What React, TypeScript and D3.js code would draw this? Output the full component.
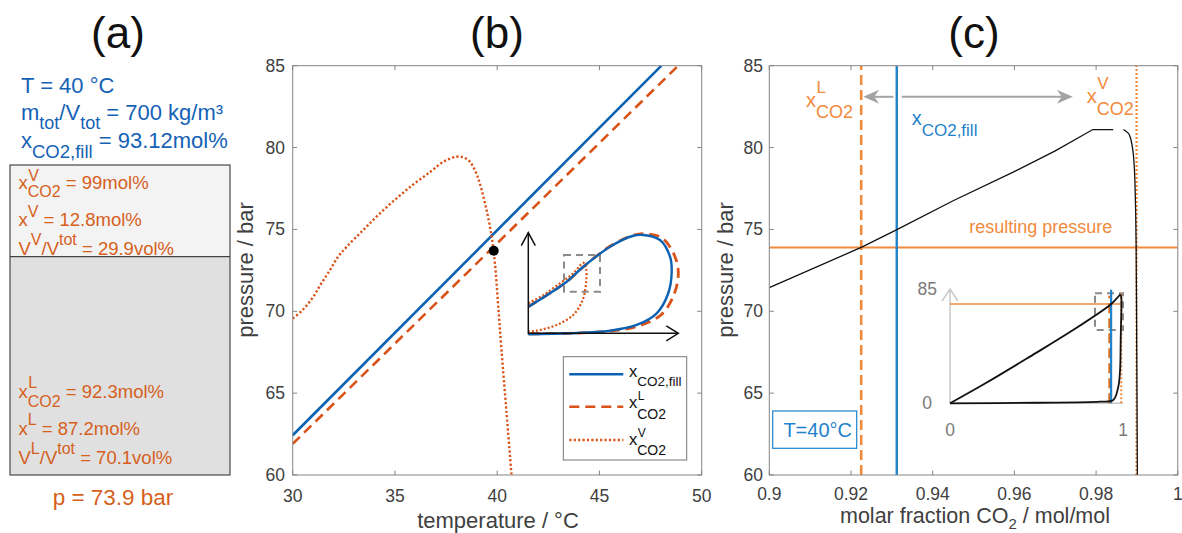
import React from "react";
import * as d3 from "d3";

const FONT = "'Liberation Sans', Arial, Helvetica, sans-serif";
const BLUE_A = "#1462b5";
const ORANGE_A = "#d65f1c";
const BLUE_B = "#0b62b3";
const ORANGE_B = "#d95319";
const BLUE_C = "#1f82cb";
const ORANGE_C = "#f08a3c";
const AXIS = "#858585";
const TICKTXT = "#404040";

// ---------------- panel (b) data ----------------
const bTempTicks = [30, 35, 40, 45, 50];
const pressureTicks = [60, 65, 70, 75, 80, 85];
const bFillT = [30, 48.03];
const bFillP = [62.43, 85];
const bLiqT = [30, 48.85];
const bLiqP = [61.9, 85];
const bVapT = [30, 30.5, 31.0, 31.4, 31.82, 32.2, 32.64, 33.45, 34.2, 35.08, 35.9, 36.71, 37.4, 38.0, 38.35, 38.67, 38.95, 39.15, 39.48, 39.73, 39.89, 40.05, 40.21, 40.45, 40.7];
const bVapP = [69.56, 70.1, 70.88, 71.7, 72.51, 73.3, 73.94, 74.96, 75.9, 76.9, 77.75, 78.5, 79.15, 79.44, 79.4, 79.13, 78.5, 77.81, 76.18, 74.55, 72.92, 70.3, 67.62, 63.9, 60];
const bPointT = 39.83;
const bPointP = 73.7;

// inset (b), schematic normalized coordinates
const ibFillX = [0, 0.256, 0.367, 0.545, 0.7, 0.767, 0.878, 0.945, 0.956, 0.933, 0.856, 0.723, 0.545, 0.278, 0];
const ibFillY = [0.264, 0.513, 0.662, 0.861, 0.97, 0.977, 0.927, 0.761, 0.612, 0.398, 0.199, 0.083, 0.026, 0.0, -0.01];
const ibLiqX = [0, 0.256, 0.367, 0.545, 0.7, 0.778, 0.89, 0.97, 1.0, 0.975, 0.89, 0.74, 0.545, 0.278, 0];
const ibLiqY = [0.264, 0.513, 0.662, 0.865, 0.975, 0.99, 0.95, 0.79, 0.612, 0.4, 0.19, 0.075, 0.022, 0.0, -0.005];
const ibVapX = [0, 0.1, 0.211, 0.3, 0.367, 0.385, 0.385, 0.362, 0.3, 0.189, 0.056, 0];
const ibVapY = [0.298, 0.38, 0.497, 0.596, 0.7, 0.646, 0.497, 0.331, 0.182, 0.083, 0.026, 0.016];
const ibBoxX = [0.238, 0.478];
const ibBoxY = [0.413, 0.778];

// ---------------- panel (c) data ----------------
const cXTicks = [0.9, 0.92, 0.94, 0.96, 0.98, 1];
const cXTickLabels = ["0.9", "0.92", "0.94", "0.96", "0.98", "1"];
const xFill = 0.9312;
const xLiq = 0.9225;
const xVap = 0.9899;
const pResult = 73.9;
const cBubX = [0.9, 0.9225, 0.931, 0.945, 0.9597, 0.97, 0.9792, 0.9842];
const cBubP = [71.45, 73.9, 74.96, 76.75, 78.5, 79.8, 81.1, 81.1];
const cDewX = [0.9867, 0.9881, 0.9889, 0.9893, 0.9896, 0.9898, 0.9899, 0.99, 0.9901];
const cDewP = [81.1, 80.8, 80.0, 79.0, 77.0, 74.0, 70.0, 65.0, 60];
const cArrowP = 83.1;
const cArrowLeft = [0.9304, 0.923];
const cArrowRight = [0.9324, 0.9743];

// inset (c)
const icBubX = [0, 0.2, 0.462, 0.7, 0.925, 0.96, 0.985];
const icBubP = [0, 14.5, 34.7, 53.5, 73.1, 77.5, 81.1];
const icDewX = [0, 0.5, 0.867, 0.944, 0.973, 0.983, 0.987, 0.991, 0.99, 0.985];
const icDewP = [0, 0.4, 1.2, 2.5, 12.4, 24.8, 49.6, 74, 79, 81.1];
const icBoxX = [0.838, 1.0];
const icBoxP = [54.5, 81.8];

type Seg = { t: string; o?: number; fs?: number };

function Rich({ x, y, segs, fill, fs, anchor = "start" }: { x: number; y: number; segs: Seg[]; fill: string; fs: number; anchor?: string }) {
  let prev = 0;
  return (
    <text x={x} y={y} fill={fill} fontFamily={FONT} fontSize={fs} textAnchor={anchor} style={{ whiteSpace: "pre" }}>
      {segs.map((s, i) => {
        const o = s.o ?? 0;
        const dy = o - prev;
        prev = o;
        return (
          <tspan key={i} dy={dy} fontSize={s.fs ?? fs}>
            {s.t}
          </tspan>
        );
      })}
    </text>
  );
}

function XLabel({ x, y, fs, sup, sub, rest = "", supFs, subFs, supO, subO, fill, base = "x" }: any) {
  const w = 0.5 * fs;
  return (
    <g>
      <Rich x={x} y={y} fs={fs} fill={fill} segs={[{ t: base }, { t: sub, o: subO, fs: subFs }, { t: rest, o: 0 }]} />
      <text x={x + w + 0.5} y={y + supO} fontSize={supFs} fill={fill} fontFamily={FONT}>
        {sup}
      </text>
    </g>
  );
}

function Frame({ x0, x1, y0, y1, xt, yt, xs, ys, xLabels, xLabelY, yLabelX }: any) {
  const tl = 4.5;
  return (
    <g>
      <rect x={x0} y={y1} width={x1 - x0} height={y0 - y1} fill="none" stroke={AXIS} strokeWidth={1} />
      {xt.map((v: number, i: number) => (
        <g key={"x" + i}>
          <line x1={xs(v)} x2={xs(v)} y1={y0} y2={y0 - tl} stroke={AXIS} />
          <line x1={xs(v)} x2={xs(v)} y1={y1} y2={y1 + tl} stroke={AXIS} />
          <text x={xs(v)} y={xLabelY} textAnchor="middle" fontSize={17.5} fill={TICKTXT} fontFamily={FONT}>
            {xLabels[i]}
          </text>
        </g>
      ))}
      {yt.map((v: number, i: number) => (
        <g key={"y" + i}>
          <line x1={x0} x2={x0 + tl} y1={ys(v)} y2={ys(v)} stroke={AXIS} />
          <line x1={x1} x2={x1 - tl} y1={ys(v)} y2={ys(v)} stroke={AXIS} />
          <text x={yLabelX} y={ys(v) + 6} textAnchor="end" fontSize={17.5} fill={TICKTXT} fontFamily={FONT}>
            {v}
          </text>
        </g>
      ))}
    </g>
  );
}

export default function App() {
  const xB = d3.scaleLinear().domain([30, 50]).range([292.7, 701.7]);
  const yP = d3.scaleLinear().domain([60, 85]).range([475, 65.7]);
  const xC = d3.scaleLinear().domain([0.9, 1.0]).range([769.3, 1177.8]);
  const xIB = d3.scaleLinear().domain([0, 1]).range([528.3, 678.3]);
  const yIB = d3.scaleLinear().domain([0, 1]).range([333.3, 232.7]);
  const xIC = d3.scaleLinear().domain([0, 1]).range([950, 1123]);
  const yIC = d3.scaleLinear().domain([0, 85]).range([403.3, 289]);

  const mk = (X: number[], Y: number[], sx: any, sy: any, curve: any = d3.curveLinear) =>
    d3
      .line<number>()
      .x((_, i) => sx(X[i]))
      .y((_, i) => sy(Y[i]))
      .curve(curve)(X) as string;

  const bFill = mk(bFillT, bFillP, xB, yP);
  const bLiq = mk(bLiqT, bLiqP, xB, yP);
  const bVap = mk(bVapT, bVapP, xB, yP, d3.curveCatmullRom);
  const ibFill = mk(ibFillX, ibFillY, xIB, yIB, d3.curveCatmullRom);
  const ibLiq = mk(ibLiqX, ibLiqY, xIB, yIB, d3.curveCatmullRom);
  const ibVap = mk(ibVapX, ibVapY, xIB, yIB, d3.curveCatmullRom);
  const cBub = mk(cBubX, cBubP, xC, yP);
  const cDew = mk(cDewX, cDewP, xC, yP, d3.curveMonotoneY);
  const icBub = mk(icBubX, icBubP, xIC, yIC, d3.curveCatmullRom);
  const icDew = mk(icDewX, icDewP, xIC, yIC, d3.curveCatmullRom);

  const ay = yP(cArrowP);
  const arrowHead = (tipX: number, dir: number) => {
    const L = 16, Wd = 7, notch = 5;
    return `M${tipX},${ay} L${tipX + dir * L},${ay - Wd} L${tipX + dir * (L - notch)},${ay} L${tipX + dir * L},${ay + Wd} Z`;
  };

  return (
    <svg width={1182} height={533} style={{ position: "absolute", left: 0, top: 0, background: "#fff" }} fontFamily={FONT}>
      <defs>
        <clipPath id="clipB">
          <rect x={xB(30)} y={yP(85)} width={xB(50) - xB(30)} height={yP(60) - yP(85)} />
        </clipPath>
        <clipPath id="clipC">
          <rect x={xC(0.9)} y={yP(85)} width={xC(1) - xC(0.9)} height={yP(60) - yP(85)} />
        </clipPath>
      </defs>

      {/* titles */}
      <text x={118} y={48} fontSize={44} textAnchor="middle" fill="#111">(a)</text>
      <text x={497} y={48} fontSize={44} textAnchor="middle" fill="#111">(b)</text>
      <text x={974} y={48} fontSize={44} textAnchor="middle" fill="#111">(c)</text>

      {/* ---------------- panel (a) ---------------- */}
      <text x={21} y={93} fontSize={22} fill={BLUE_A}>T = 40 °C</text>
      <Rich x={21} y={120} fs={22} fill={BLUE_A} segs={[{ t: "m" }, { t: "tot", o: 9, fs: 18 }, { t: "/V", o: 0 }, { t: "tot", o: 9, fs: 18 }, { t: " = 700 kg/m³", o: 0 }]} />
      <Rich x={21} y={147.5} fs={22} fill={BLUE_A} segs={[{ t: "x" }, { t: "CO2,fill", o: 10.5, fs: 18.5 }, { t: " = 93.12mol%", o: 0 }]} />

      <rect x={10} y={165} width={220} height={91.7} fill="#f3f3f3" />
      <rect x={10} y={256.7} width={220} height={218.3} fill="#e0e0e0" />
      <rect x={10} y={165} width={220} height={310} fill="none" stroke="#555" strokeWidth={1.3} />
      <line x1={10} x2={230} y1={256.7} y2={256.7} stroke="#444" strokeWidth={1.3} />

      <XLabel x={18.5} y={189} fs={18.5} fill={ORANGE_A} sup="V" sub="CO2" rest=" = 99mol%" supFs={16} subFs={16} supO={-8.5} subO={8} />
      <Rich x={18.5} y={225.7} fs={18.5} fill={ORANGE_A} segs={[{ t: "x" }, { t: "V", o: -9, fs: 16 }, { t: " = 12.8mol%", o: 0 }]} />
      <Rich x={18.5} y={254.5} fs={18.5} fill={ORANGE_A} segs={[{ t: "V" }, { t: "V", o: -10, fs: 16 }, { t: "/V", o: 0 }, { t: "tot", o: -10, fs: 16 }, { t: " = 29.9vol%", o: 0 }]} />

      <XLabel x={18.5} y={398.3} fs={18.5} fill={ORANGE_A} sup="L" sub="CO2" rest=" = 92.3mol%" supFs={16} subFs={16} supO={-10} subO={8.4} />
      <Rich x={18.5} y={435} fs={18.5} fill={ORANGE_A} segs={[{ t: "x" }, { t: "L", o: -10, fs: 16 }, { t: " = 87.2mol%", o: 0 }]} />
      <Rich x={18.5} y={464} fs={18.5} fill={ORANGE_A} segs={[{ t: "V" }, { t: "L", o: -10.5, fs: 16 }, { t: "/V", o: 0 }, { t: "tot", o: -10, fs: 16 }, { t: " = 70.1vol%", o: 0 }]} />

      <text x={113} y={505} fontSize={22.5} textAnchor="middle" fill={ORANGE_A}>p = 73.9 bar</text>

      {/* ---------------- panel (b) ---------------- */}
      <g clipPath="url(#clipB)">
        <path d={bFill} fill="none" stroke={BLUE_B} strokeWidth={2.6} />
        <path d={bLiq} fill="none" stroke={ORANGE_B} strokeWidth={2.6} strokeDasharray="10,6" />
        <path d={bVap} fill="none" stroke={ORANGE_B} strokeWidth={2.4} strokeDasharray="2.2,2.2" />
      </g>
      <circle cx={xB(bPointT)} cy={yP(bPointP)} r={5} fill="#000" />

      {/* inset (b) */}
      <rect x={xIB(ibBoxX[0])} y={yIB(ibBoxY[1])} width={xIB(ibBoxX[1]) - xIB(ibBoxX[0])} height={yIB(ibBoxY[0]) - yIB(ibBoxY[1])} fill="none" stroke="#8a8a8a" strokeWidth={2} strokeDasharray="7,5" />
      <path d={ibVap} fill="none" stroke={ORANGE_B} strokeWidth={2.2} strokeDasharray="2,2" />
      <path d={ibLiq} fill="none" stroke={ORANGE_B} strokeWidth={2.8} strokeDasharray="10,6" />
      <path d={ibFill} fill="none" stroke={BLUE_B} strokeWidth={2.4} />
      <line x1={xIB(0)} x2={xIB(0)} y1={yIB(0) + 1} y2={yIB(1)} stroke="#111" strokeWidth={1.5} />
      <line x1={xIB(0)} x2={xIB(1)} y1={yIB(0)} y2={yIB(0)} stroke="#111" strokeWidth={1.5} />
      <path d={`M${xIB(0) - 7},${yIB(1) + 13} L${xIB(0)},${yIB(1)} L${xIB(0) + 7},${yIB(1) + 13}`} fill="none" stroke="#111" strokeWidth={1.5} />
      <path d={`M${xIB(1) - 12},${yIB(0) - 7.5} L${xIB(1)},${yIB(0)} L${xIB(1) - 12},${yIB(0) + 7.5}`} fill="none" stroke="#111" strokeWidth={1.5} />

      {/* legend (b) */}
      <rect x={563.3} y={356.7} width={123.4} height={103.3} fill="#fff" stroke="#777" strokeWidth={1} />
      <line x1={569.3} x2={623.3} y1={374.3} y2={374.3} stroke={BLUE_B} strokeWidth={2.6} />
      <line x1={569.3} x2={623.3} y1={406.7} y2={406.7} stroke={ORANGE_B} strokeWidth={2.6} strokeDasharray="10,6" />
      <line x1={569.3} x2={623.3} y1={440} y2={440} stroke={ORANGE_B} strokeWidth={2.4} strokeDasharray="2.2,2.2" />
      <Rich x={629} y={377} fs={16.5} fill="#111" segs={[{ t: "x" }, { t: "CO2,fill", o: 8.5, fs: 13.5 }]} />
      <XLabel x={629} y={407.5} fs={16.5} fill="#111" sup="L" sub="CO2" supFs={12} subFs={14} supO={-8} subO={11} />
      <XLabel x={629} y={445} fs={16.5} fill="#111" sup="V" sub="CO2" supFs={12} subFs={14} supO={-8} subO={10} />

      <Frame x0={xB(30)} x1={xB(50)} y0={yP(60)} y1={yP(85)} xt={bTempTicks} yt={pressureTicks} xs={xB} ys={yP} xLabels={bTempTicks.map(String)} xLabelY={501.5} yLabelX={285} />
      <text x={498} y={528} fontSize={22} textAnchor="middle" fill={TICKTXT}>temperature / °C</text>
      <text transform="translate(253,270) rotate(-90)" fontSize={22} textAnchor="middle" fill={TICKTXT}>pressure / bar</text>

      {/* ---------------- panel (c) ---------------- */}
      <g clipPath="url(#clipC)">
        <line x1={xC(0.9)} x2={xC(1)} y1={yP(pResult)} y2={yP(pResult)} stroke={ORANGE_C} strokeWidth={2} />
        <line x1={xC(xLiq)} x2={xC(xLiq)} y1={yP(60)} y2={yP(85)} stroke={ORANGE_C} strokeWidth={2.6} strokeDasharray="10,5" />
        <line x1={xC(xFill)} x2={xC(xFill)} y1={yP(60)} y2={yP(85)} stroke={BLUE_C} strokeWidth={2.4} />
        <line x1={xC(xVap)} x2={xC(xVap)} y1={yP(60)} y2={yP(85)} stroke={ORANGE_C} strokeWidth={2.2} strokeDasharray="2,2" />
        <path d={cBub} fill="none" stroke="#111" strokeWidth={1.3} />
        <path d={cDew} fill="none" stroke="#111" strokeWidth={1.3} />
      </g>

      {/* arrows */}
      <line x1={xC(cArrowLeft[0])} x2={xC(cArrowLeft[1]) + 10} y1={ay} y2={ay} stroke="#a3a3a3" strokeWidth={2} />
      <path d={arrowHead(xC(cArrowLeft[1]), 1)} fill="#a3a3a3" />
      <line x1={xC(cArrowRight[0])} x2={xC(cArrowRight[1]) - 10} y1={ay} y2={ay} stroke="#a3a3a3" strokeWidth={2} />
      <path d={arrowHead(xC(cArrowRight[1]), -1)} fill="#a3a3a3" />

      <XLabel x={806} y={106.7} fs={20} fill={ORANGE_C} sup="L" sub="CO2" supFs={17} subFs={18} supO={-14} subO={11.6} />
      <XLabel x={1086.7} y={103.3} fs={20} fill={ORANGE_C} sup="V" sub="CO2" supFs={17} subFs={18} supO={-14} subO={11.7} />
      <Rich x={911.7} y={125} fs={20} fill={BLUE_C} segs={[{ t: "x" }, { t: "CO2,fill", o: 11, fs: 17 }]} />
      <text x={1040.7} y={232.5} fontSize={18} textAnchor="middle" fill={ORANGE_C}>resulting pressure</text>

      {/* T box */}
      <rect x={772.7} y={411} width={84} height={37.3} fill="#fff" stroke={BLUE_C} strokeWidth={1.2} />
      <text x={852} y={436.5} fontSize={20} textAnchor="end" fill={BLUE_C}>T=40°C</text>

      {/* inset (c) */}
      <line x1={xIC(0)} x2={xIC(1)} y1={yIC(0)} y2={yIC(0)} stroke="#c8c8c8" strokeWidth={1.5} />
      <line x1={xIC(0)} x2={xIC(0)} y1={yIC(0)} y2={yIC(85) + 1} stroke="#c8c8c8" strokeWidth={1.5} />
      <path d={`M${xIC(0) - 8},${yIC(85) + 12} L${xIC(0)},${yIC(85)} L${xIC(0) + 8},${yIC(85) + 12}`} fill="none" stroke="#c8c8c8" strokeWidth={1.5} />
      <line x1={xIC(0)} x2={xIC(1)} y1={yIC(pResult)} y2={yIC(pResult)} stroke={ORANGE_C} strokeWidth={1.5} />
      <rect x={xIC(icBoxX[0])} y={yIC(icBoxP[1])} width={xIC(icBoxX[1]) - xIC(icBoxX[0])} height={yIC(icBoxP[0]) - yIC(icBoxP[1])} fill="none" stroke="#8a8a8a" strokeWidth={2} strokeDasharray="7,5" />
      <line x1={xIC(xLiq)} x2={xIC(xLiq)} y1={yIC(0)} y2={yIC(80)} stroke="#d9701f" strokeWidth={2.6} strokeDasharray="10,5" />
      <line x1={xIC(xFill)} x2={xIC(xFill)} y1={yIC(0)} y2={yIC(84.5)} stroke={BLUE_C} strokeWidth={2.2} />
      <line x1={xIC(0.99)} x2={xIC(0.99)} y1={yIC(0)} y2={yIC(82)} stroke={ORANGE_C} strokeWidth={2} strokeDasharray="2,2" />
      <path d={icBub} fill="none" stroke="#111" strokeWidth={1.8} />
      <path d={icDew} fill="none" stroke="#111" strokeWidth={1.8} />
      <text x={937} y={yIC(85) + 6} fontSize={17.5} textAnchor="end" fill="#7a7a7a">85</text>
      <text x={932} y={yIC(0) + 6} fontSize={17.5} textAnchor="end" fill="#7a7a7a">0</text>
      <text x={xIC(0)} y={436} fontSize={17.5} textAnchor="middle" fill="#7a7a7a">0</text>
      <text x={xIC(1)} y={436} fontSize={17.5} textAnchor="middle" fill="#7a7a7a">1</text>

      <Frame x0={xC(0.9)} x1={xC(1)} y0={yP(60)} y1={yP(85)} xt={cXTicks} yt={pressureTicks} xs={xC} ys={yP} xLabels={cXTickLabels} xLabelY={500} yLabelX={763} />
      <Rich x={975} y={523} fs={21.5} fill={TICKTXT} anchor="middle" segs={[{ t: "molar fraction CO" }, { t: "2", o: 6, fs: 15 }, { t: " / mol/mol", o: 0 }]} />
      <text transform="translate(733,270) rotate(-90)" fontSize={22} textAnchor="middle" fill={TICKTXT}>pressure / bar</text>
    </svg>
  );
}
